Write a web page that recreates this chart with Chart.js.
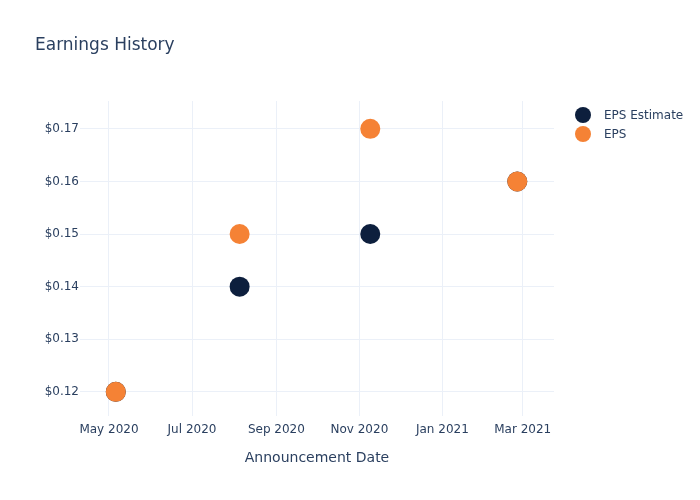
<!DOCTYPE html>
<html>
<head>
<meta charset="utf-8">
<script src="https://cdn.jsdelivr.net/npm/chart.js@4.4.0/dist/chart.umd.min.js"></script>
<style>
  body { margin: 0; background: #fff; font-family: "DejaVu Sans", sans-serif; color: #2a3f5f; }
  #wrap { position: relative; width: 700px; height: 500px; }
  #title { position: absolute; left: 35px; top: 34px; font-size: 17px; }
  .leg { position: absolute; left: 575px; font-size: 12px; line-height: 16px; }
  .leg span.dot { position: absolute; left: 0; top: 0; width: 16px; height: 16px; border-radius: 50%; }
  .leg span.txt { position: absolute; left: 29px; top: 0; white-space: nowrap; }
</style>
</head>
<body>
<div id="wrap">
  <canvas id="myChart" width="700" height="500"></canvas>
  <div id="title">Earnings History</div>
  <div class="leg" style="top:107px"><span class="dot" style="background:#0d1f3d"></span><span class="txt">EPS Estimate</span></div>
  <div class="leg" style="top:126px"><span class="dot" style="background:#f58235"></span><span class="txt">EPS</span></div>
</div>
<script>
// announcement dates
const dates = ["2020-05-06", "2020-08-05", "2020-11-09", "2021-02-25"];
const epsEstimate = [0.12, 0.14, 0.15, 0.16];
const epsActual = [0.12, 0.15, 0.17, 0.16];

const xTickDates = ["2020-05-01", "2020-07-01", "2020-09-01", "2020-11-01", "2021-01-01", "2021-03-01"];
const yTicks = [0.12, 0.13, 0.14, 0.15, 0.16, 0.17];
const months = ["Jan","Feb","Mar","Apr","May","Jun","Jul","Aug","Sep","Oct","Nov","Dec"];

const toTime = s => Date.parse(s + "T00:00:00Z");
const DAY = 86400000;

const ctx = document.getElementById("myChart").getContext("2d");
new Chart(ctx, {
  type: "scatter",
  data: {
    datasets: [
      {
        label: "EPS Estimate",
        data: dates.map((d, i) => ({ x: toTime(d), y: epsEstimate[i] })),
        backgroundColor: "#0d1f3d",
        borderWidth: 0,
        pointRadius: 10,
        pointHoverRadius: 10,
        order: 2
      },
      {
        label: "EPS",
        data: dates.map((d, i) => ({ x: toTime(d), y: epsActual[i] })),
        backgroundColor: "#f58235",
        borderWidth: 0,
        pointRadius: 10,
        pointHoverRadius: 10,
        order: 1
      }
    ]
  },
  options: {
    responsive: false,
    animation: false,
    layout: { padding: { top: 101, right: 146, left: 0, bottom: 29 } },
    plugins: { legend: { display: false }, tooltip: { enabled: false } },
    scales: {
      x: {
        type: "linear",
        min: toTime("2020-04-10") - 0.3 * DAY,
        max: toTime("2021-03-24"),
        afterBuildTicks: s => { s.ticks = xTickDates.map(d => ({ value: toTime(d) })); },
        afterFit: s => { s.height = 55; },
        grid: { color: "#ebf0f8", drawTicks: false },
        border: { display: false },
        ticks: {
          padding: 7,
          color: "#2a3f5f",
          font: { family: "DejaVu Sans", size: 12 },
          maxRotation: 0,
          callback: v => { const d = new Date(v); return months[d.getUTCMonth()] + " " + d.getUTCFullYear(); }
        },
        title: {
          display: true,
          text: "Announcement Date",
          color: "#2a3f5f",
          font: { family: "DejaVu Sans", size: 14 },
          padding: { top: 14 }
        }
      },
      y: {
        min: 0.1154,
        max: 0.1753,
        afterBuildTicks: s => { s.ticks = yTicks.map(v => ({ value: v })); },
        afterFit: s => { s.width = 80; },
        grid: { color: "#ebf0f8", drawTicks: false },
        border: { display: false },
        ticks: {
          padding: 1,
          color: "#2a3f5f",
          font: { family: "DejaVu Sans", size: 12 },
          callback: v => "$" + v.toFixed(2)
        }
      }
    }
  }
});
</script>
</body>
</html>
